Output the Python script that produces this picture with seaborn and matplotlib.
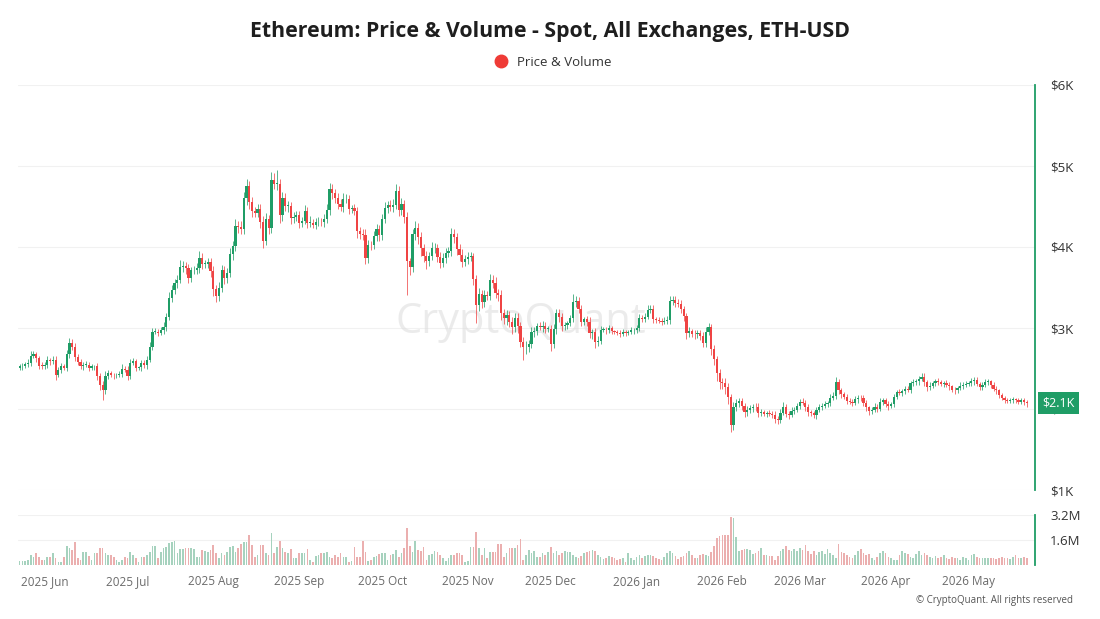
import numpy as np
import pandas as pd
import matplotlib.pyplot as plt
import seaborn as sns
from matplotlib.lines import Line2D
from matplotlib import transforms

# daily candles, ETH-USD, starting 2025-05-23 (open = previous close)
start_date = "2025-05-23"
first_open = 2510

close = [
    2525, 2530, 2550, 2565, 2660, 2680, 2630, 2535, 2530,  # 2025 May
    2540, 2605, 2595, 2610, 2420, 2485, 2525, 2510, 2680, 2820, 2770, 2645, 2580, 2525, 2545,
    2545, 2510, 2525, 2525, 2410, 2295, 2230, 2410, 2445, 2420, 2415, 2425, 2435, 2500, 2485,  # Jun
    2405, 2570, 2590, 2510, 2515, 2570, 2540, 2610, 2770, 2950, 2955, 2940, 2970, 3015, 3140, 3370,
    3475, 3550, 3590, 3755, 3760, 3740, 3620, 3710, 3720, 3745, 3870, 3795, 3795, 3810, 3700,  # Jul
    3480, 3390, 3495, 3720, 3615, 3680, 3910, 4010, 4260, 4250, 4225, 4600, 4750, 4555, 4440, 4425,
    4475, 4310, 4080, 4340, 4230, 4830, 4780, 4780, 4390, 4600, 4510, 4510, 4360, 4375, 4390,  # Aug
    4300, 4325, 4450, 4300, 4300, 4275, 4305, 4310, 4305, 4350, 4460, 4715, 4665, 4605, 4525,
    4500, 4590, 4595, 4470, 4480, 4450, 4200, 4165, 4150, 3870, 4030, 4020, 4140, 4220, 4145,  # Sep
    4350, 4485, 4515, 4490, 4515, 4690, 4460, 4530, 4370, 3830, 3750, 4155, 4240, 4120, 3985, 3890,
    3830, 3890, 3985, 3985, 3880, 3805, 3860, 3930, 3955, 4160, 4120, 3980, 3900, 3810, 3850,  # Oct
    3875, 3890, 3600, 3290, 3420, 3315, 3410, 3400, 3590, 3560, 3430, 3410, 3190, 3120, 3160,
    3080, 3010, 3120, 3020, 2830, 2760, 2770, 2800, 2950, 2960, 3020, 3010, 3030, 2990, 2990,  # Nov
    2800, 2990, 3190, 3130, 3020, 3040, 3060, 3120, 3320, 3330, 3240, 3080, 3110, 3080, 2940, 2950,
    2830, 2840, 2980, 2980, 2970, 3000, 2960, 2950, 2940, 2930, 2950, 2940, 2950, 2970, 2970,  # Dec
    3000, 3120, 3110, 3140, 3220, 3240, 3110, 3100, 3090, 3080, 3090, 3100, 3330, 3350, 3310, 3300,
    3240, 3150, 2940, 2960, 2930, 2920, 2940, 2900, 2820, 2950, 3010, 2740, 2620, 2440, 2330,  # 2026 Jan
    2320, 2270, 2150, 1800, 2030, 2070, 2100, 2040, 1960, 1990, 2010, 2030, 2020, 1950,
    1960, 1940, 1950, 1940, 1930, 1880, 1870, 1950, 2025, 1940, 1930, 1980, 1990, 2040,  # Feb
    2090, 2080, 2020, 1960, 1950, 1920, 1990, 2030, 2040, 2060, 2070, 2140, 2160, 2330, 2230, 2180,
    2150, 2100, 2090, 2080, 2120, 2140, 2130, 2080, 2020, 1970, 1990, 2030, 2000, 2090, 2110,  # Mar
    2060, 2040, 2060, 2150, 2210, 2200, 2220, 2250, 2240, 2320, 2330, 2340, 2370, 2400, 2330,
    2270, 2290, 2320, 2340, 2330, 2310, 2320, 2300, 2280, 2240, 2230, 2260, 2290, 2300, 2310,  # Apr
    2320, 2340, 2360, 2310, 2270, 2300, 2330, 2340, 2300, 2250, 2230,
    2170, 2140, 2110, 2100, 2110, 2120, 2110, 2090, 2110, 2090, 2075,  # May
]

# wick lengths beyond the body, in $10 units
wick_up = [
    3, 4, 3, 5, 6, 3, 2, 3, 4,
    4, 5, 3, 4, 5, 3, 4, 3, 5, 6, 4, 5, 3, 4, 3, 5, 4, 3, 2, 4, 3, 5, 6, 4, 3, 3, 2, 4, 5, 3,
    4, 5, 4, 3, 2, 4, 3, 5, 6, 5, 4, 3, 4, 6, 5, 7, 6, 5, 6, 9, 7, 6, 5, 4, 5, 6, 8, 6, 5, 6, 5,
    6, 5, 7, 6, 5, 6, 8, 7, 9, 6, 7, 8, 9, 7, 6, 5, 6, 5, 7, 8, 6, 10, 8, 17, 6, 8, 7, 6, 5, 6, 5,
    6, 5, 7, 5, 8, 4, 5, 6, 5, 6, 7, 8, 6, 5, 6, 7, 8, 6, 5, 4, 5, 4, 5, 6, 7, 6, 5, 6, 7, 5,
    6, 7, 5, 6, 8, 9, 6, 7, 5, 6, 4, 7, 8, 6, 7, 5, 6, 5, 8, 6, 5, 6, 7, 6, 5, 8, 6, 5, 6, 7, 5,
    6, 5, 4, 6, 7, 5, 6, 5, 8, 6, 7, 5, 6, 5, 6, 5, 6, 7, 6, 5, 6, 7, 5, 6, 5, 4, 5, 6, 5, 4,
    5, 6, 5, 4, 5, 4, 3, 4, 10, 6, 5, 4, 3, 4, 5, 4, 5, 6, 4, 3, 3, 4, 3, 2, 3, 3, 4, 3, 3, 4, 3,
    4, 5, 4, 5, 6, 5, 4, 3, 4, 3, 4, 5, 6, 5, 4, 5, 4, 3, 4, 5, 3, 4, 3, 4, 5, 6, 5, 4, 5, 4, 6,
    5, 6, 5, 4, 6, 5, 4, 3, 4, 5, 4, 3, 4, 5, 4, 3, 3, 4, 3, 4, 3, 5, 6, 4, 3, 4, 3, 4,
    3, 4, 3, 4, 3, 2, 4, 3, 3, 4, 3, 4, 5, 6, 4, 3, 3, 4, 3, 3, 4, 3, 3, 4, 3, 2, 3, 4, 3, 4, 3,
    3, 4, 3, 4, 3, 4, 3, 3, 4, 3, 4, 3, 4, 5, 4, 3, 4, 3, 3, 4, 3, 3, 4, 3, 2, 3, 3, 4, 3, 3,
    3, 4, 3, 3, 2, 3, 4, 3, 2, 3, 3, 2, 3, 2, 3, 2, 3, 2, 3, 2, 3, 2,
]
wick_dn = [
    3, 4, 2, 3, 4, 3, 5, 4, 3,
    4, 3, 5, 4, 6, 3, 4, 3, 4, 5, 4, 5, 4, 3, 4, 3, 4, 3, 4, 5, 6, 12, 5, 4, 3, 4, 3, 3, 4, 3,
    5, 4, 3, 4, 3, 4, 3, 4, 3, 4, 3, 4, 3, 4, 5, 4, 5, 6, 5, 4, 6, 7, 6, 5, 4, 5, 6, 7, 5, 6, 7,
    8, 7, 6, 5, 7, 6, 5, 7, 6, 8, 7, 6, 8, 9, 7, 6, 5, 8, 9, 6, 7, 6, 7, 8, 9, 7, 6, 8, 7, 6, 5,
    6, 5, 4, 6, 5, 4, 5, 4, 5, 6, 5, 6, 7, 6, 5, 6, 7, 5, 6, 5, 6, 9, 7, 6, 8, 7, 6, 5, 6, 7,
    6, 5, 6, 5, 6, 5, 8, 6, 7, 42, 9, 6, 7, 8, 9, 7, 10, 6, 5, 6, 7, 6, 5, 6, 5, 6, 7, 8, 7, 6, 5,
    6, 5, 7, 23, 8, 7, 6, 5, 6, 7, 6, 8, 9, 7, 8, 7, 9, 6, 8, 7, 16, 8, 7, 5, 6, 5, 4, 6, 5, 4,
    8, 5, 6, 5, 6, 4, 5, 4, 5, 6, 5, 6, 4, 5, 6, 7, 8, 5, 4, 3, 4, 3, 4, 3, 3, 4, 3, 4, 3, 3, 4,
    3, 4, 3, 4, 3, 4, 5, 4, 3, 4, 3, 4, 5, 4, 5, 4, 5, 6, 7, 5, 4, 5, 4, 5, 6, 5, 4, 7, 8, 9, 8,
    7, 8, 9, 9, 6, 5, 4, 5, 6, 5, 4, 5, 4, 5, 4, 3, 4, 3, 4, 5, 5, 4, 3, 4, 5, 3, 4, 3,
    4, 3, 4, 5, 4, 3, 4, 3, 4, 3, 4, 3, 3, 4, 5, 4, 3, 4, 3, 4, 3, 4, 3, 4, 5, 4, 3, 3, 4, 3, 4,
    4, 5, 3, 4, 3, 3, 4, 3, 3, 4, 3, 3, 4, 3, 4, 5, 4, 3, 4, 3, 3, 4, 3, 4, 3, 4, 3, 3, 4, 3,
    3, 3, 4, 3, 4, 3, 3, 3, 4, 3, 4, 3, 3, 4, 3, 3, 3, 4, 3, 3, 4, 5,
]

# daily volume, millions
volume = [
    0.25, 0.25, 0.28, 0.3, 0.62, 0.53, 0.75, 0.53, 0.32,
    0.32, 0.53, 0.5, 0.75, 0.42, 0.21, 0.21, 0.53, 1.2, 1.06, 0.96, 1.45, 0.42, 0.32, 0.85,
    0.85, 0.6, 0.32, 0.75, 0.75, 1.1, 1.06, 0.75, 0.64, 0.64, 0.53, 0.32, 0.21, 0.32, 0.53,
    0.42, 0.85, 0.64, 0.42, 0.21, 0.53, 0.53, 0.64, 0.85, 1.23, 1.23, 0.42, 0.85, 1.06, 1.17, 1.38,
    1.45, 1.53, 0.75, 1.02, 1.02, 1.1, 1.1, 1.06, 1.0, 0.53, 0.53, 0.96, 0.9, 0.85, 0.96,
    1.28, 0.75, 0.42, 0.75, 0.64, 0.85, 1.17, 1.23, 0.85, 1.06, 1.32, 1.49, 1.49, 1.91, 1.28, 0.53,
    0.64, 1.28, 1.28, 0.75, 0.64, 2.02, 0.75, 1.17, 1.53, 1.06, 0.85, 0.75, 1.02, 0.47, 0.47,
    0.75, 0.75, 0.75, 1.0, 0.32, 0.21, 0.6, 0.64, 0.75, 0.75, 0.81, 0.53, 0.47, 0.64, 0.53,
    0.75, 0.53, 0.53, 0.21, 0.26, 1.17, 0.53, 0.53, 1.53, 0.85, 0.26, 0.32, 0.53, 0.6, 0.68,
    0.75, 0.75, 0.32, 0.64, 0.68, 0.96, 0.53, 0.75, 1.06, 2.34, 1.23, 0.85, 1.53, 0.96, 0.9, 1.17,
    0.32, 0.64, 0.68, 0.9, 0.85, 0.64, 0.42, 0.26, 0.42, 0.64, 0.64, 0.75, 0.75, 0.64, 0.21,
    0.26, 1.17, 1.17, 2.13, 1.06, 0.64, 1.06, 0.42, 0.85, 0.85, 0.85, 1.32, 1.32, 0.53, 0.75,
    1.06, 1.06, 1.06, 1.28, 1.66, 0.32, 0.64, 0.96, 0.75, 0.9, 0.53, 0.53, 0.75, 0.64, 0.85,
    1.16, 0.77, 0.88, 0.65, 0.77, 0.88, 0.81, 0.84, 0.65, 0.53, 0.47, 0.6, 0.77, 0.84, 0.88, 0.93,
    0.88, 0.65, 0.53, 0.37, 0.42, 0.6, 0.53, 0.42, 0.3, 0.37, 0.42, 0.19, 0.77, 0.42, 0.35,
    0.53, 0.65, 0.42, 0.6, 0.65, 0.65, 0.58, 0.42, 0.37, 0.3, 0.53, 0.77, 0.88, 0.77, 0.6, 0.37,
    0.53, 0.6, 0.77, 0.88, 0.65, 0.47, 0.42, 0.65, 0.7, 0.65, 0.6, 0.84, 1.23, 1.7, 1.88,
    1.93, 1.93, 1.93, 3.09, 2.98, 1.81, 0.88, 0.93, 1.0, 1.0, 0.93, 0.7, 0.77, 0.88,
    1.12, 0.65, 0.65, 0.6, 0.6, 0.3, 0.6, 0.88, 1.0, 1.23, 0.93, 0.88, 1.0, 0.88,
    1.07, 0.93, 1.3, 0.88, 0.7, 0.88, 0.65, 0.84, 0.88, 0.7, 1.0, 0.77, 0.65, 0.47, 1.35, 0.84,
    0.77, 0.65, 0.53, 0.42, 0.65, 0.88, 1.0, 0.77, 0.65, 0.7, 0.42, 0.3, 0.53, 0.77, 0.88,
    0.77, 0.53, 0.42, 0.35, 0.3, 0.65, 0.88, 0.77, 0.7, 0.53, 0.42, 0.7, 0.88, 0.65, 0.77,
    0.65, 0.53, 0.42, 0.6, 0.47, 0.53, 0.65, 0.42, 0.37, 0.53, 0.42, 0.47, 0.3, 0.53, 0.42,
    0.3, 0.65, 0.7, 0.53, 0.42, 0.47, 0.42, 0.47, 0.42, 0.47, 0.37,
    0.47, 0.53, 0.47, 0.42, 0.37, 0.53, 0.65, 0.47, 0.42, 0.53, 0.47,
]

price_ticks = [1000, 2000, 3000, 4000, 5000, 6000]
price_labels = ["$1K", "$2K", "$3K", "$4K", "$5K", "$6K"]
vol_ticks = [1.6, 3.2]
vol_labels = ["1.6M", "3.2M"]
last_label = "$2.1K"

GREEN = "#1f9d66"
RED = "#ef4444"
VOL_GREEN = "#9fd9bf"
VOL_RED = "#f5a5a5"

n = min(len(close), len(wick_up), len(wick_dn), len(volume))
close = np.array(close[:n], dtype=float)
open_ = np.r_[first_open, close[:-1]]
high = np.maximum(open_, close) + np.array(wick_up[:n]) * 10
low = np.minimum(open_, close) - np.array(wick_dn[:n]) * 10
dates = pd.date_range(start_date, periods=n, freq="D")
df = pd.DataFrame({
    "day": np.arange(n),
    "open": open_, "close": close, "high": high, "low": low,
    "volume": volume[:n],
})
df["dir"] = np.where(df["close"] >= df["open"], "up", "down")

sns.set_theme(style="white")
plt.rcParams["font.family"] = ["Open Sans", "DejaVu Sans"]

W, H = 1100, 619
fig = plt.figure(figsize=(W / 100, H / 100), dpi=100)
ax = fig.add_axes([18 / W, 1 - 490 / H, (1035 - 18) / W, (490 - 85) / H])
axv = fig.add_axes([18 / W, 1 - 565 / H, (1035 - 18) / W, (565 - 515) / H], sharex=ax)

# candles
cols = np.where(df["dir"] == "up", GREEN, RED)
ax.vlines(df["day"], df["low"], df["high"], colors=cols, lw=0.7, alpha=0.75, zorder=2)
body = np.maximum((df["close"] - df["open"]).abs(), 8)
ax.bar(df["day"], body, bottom=np.minimum(df["open"], df["close"]),
       width=0.8, color=cols, linewidth=0, zorder=3)

# volume
sns.barplot(data=df, x="day", y="volume", hue="dir",
            palette={"up": VOL_GREEN, "down": VOL_RED},
            native_scale=True, width=0.6, errorbar=None, legend=False,
            linewidth=0, ax=axv)

ax.set_xlim(-0.6, n + 2)
ax.set_ylim(1000, 6000)
axv.set_ylim(0, 3.2)

for a in (ax, axv):
    for s in ("left", "top", "bottom"):
        a.spines[s].set_visible(False)
    a.spines["right"].set_color(GREEN)
    a.spines["right"].set_linewidth(1.3)
    a.yaxis.tick_right()
    a.tick_params(axis="y", length=0, pad=11, labelsize=9.5, labelcolor="#333333")
    a.grid(axis="y", color="#f1f1f1", lw=0.8)
    a.set_axisbelow(True)
    a.set_xlabel("")
    a.set_ylabel("")

ax.set_yticks(price_ticks)
ax.set_yticklabels(price_labels)
ax.tick_params(axis="x", bottom=False, labelbottom=False)
axv.set_yticks(vol_ticks)
axv.set_yticklabels(vol_labels)

month_starts = [i for i, d in enumerate(dates) if d.day == 1]
axv.set_xticks(month_starts)
axv.set_xticklabels([dates[i].strftime("%Y %b") for i in month_starts])
axv.tick_params(axis="x", length=0, pad=7, labelsize=8.5, labelcolor="#6b6b6b")

# watermark
ax.text(0.494, 0.415, "CryptoQuant", transform=ax.transAxes, ha="center", va="center",
        fontsize=30, color="#dcdcdc", alpha=0.55, zorder=1)

# last price tag
trans = transforms.blended_transform_factory(ax.transAxes, ax.transData)
ax.text(1.007, df["close"].iloc[-1], last_label, transform=trans, ha="left", va="center",
        fontsize=9, color="white", clip_on=False, zorder=5,
        bbox=dict(boxstyle="square,pad=0.35", fc=GREEN, ec="none"))

fig.text(0.5, 1 - 32 / H, "Ethereum: Price & Volume - Spot, All Exchanges, ETH-USD",
         ha="center", va="center", fontsize=15.3, fontweight="bold", color="#1e1e1e")
handle = Line2D([], [], marker="o", ls="", color="#ef3b36", markersize=9)
fig.legend([handle], ["Price & Volume"], loc="center", bbox_to_anchor=(0.5, 1 - 62 / H),
           frameon=False, fontsize=9.5, handletextpad=0.2, labelcolor="#333333")
fig.text(1073 / W, 1 - 600 / H, "\u00a9 CryptoQuant. All rights reserved",
         ha="right", va="center", fontsize=7, color="#555555")

fig.savefig("out.png", dpi=100)
